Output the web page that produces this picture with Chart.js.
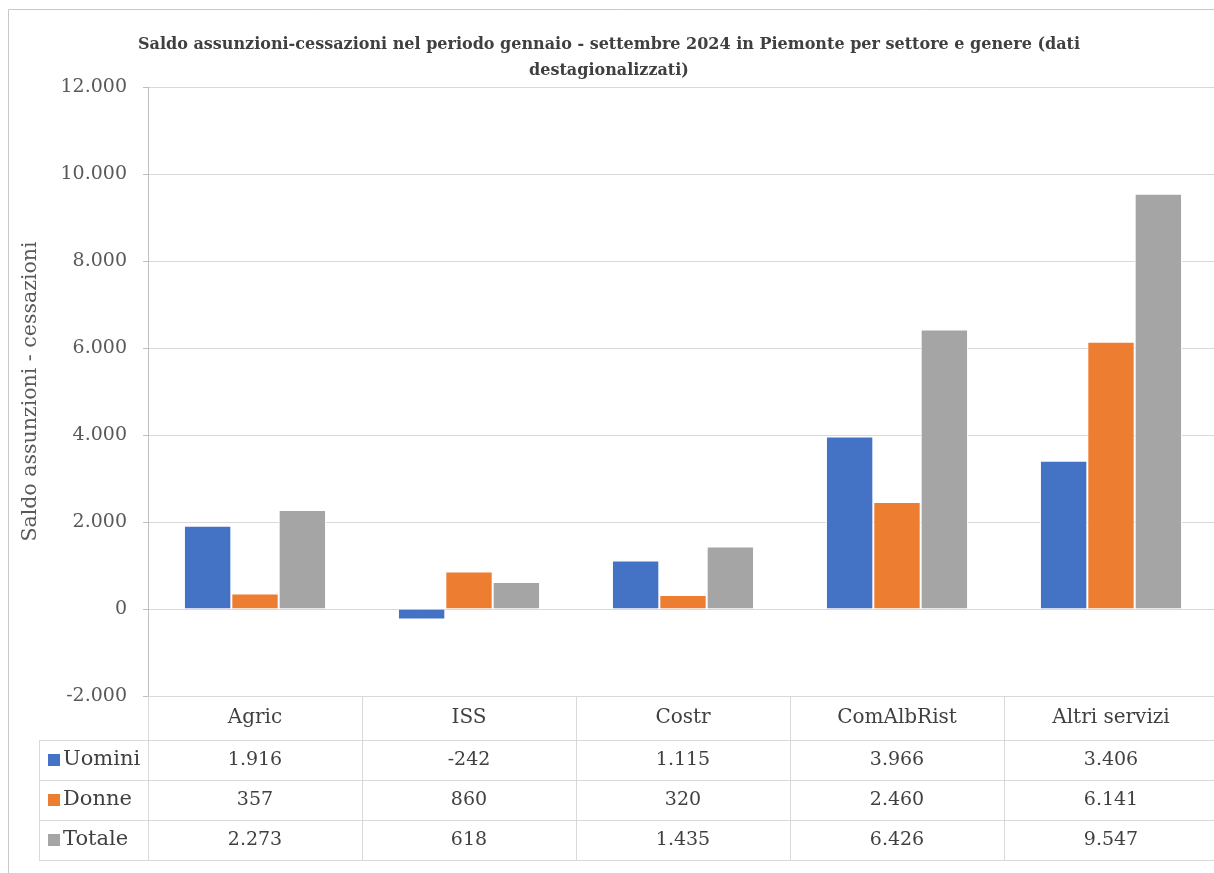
<!DOCTYPE html>
<html>
<head>
<meta charset="utf-8">
<script src="https://cdn.jsdelivr.net/npm/chart.js@4.4.1/dist/chart.umd.min.js"></script>
<style>
  html, body { margin: 0; padding: 0; background: #fff; overflow: hidden; }
  #wrap { position: absolute; left: 0; top: 0; width: 1214px; height: 873px; overflow: hidden; }
  #chart { position: absolute; left: 0; top: 0; }
</style>
</head>
<body>
<div id="wrap"><canvas id="chart" width="1230" height="873"></canvas></div>
<script>
const categories = ['Agric', 'ISS', 'Costr', 'ComAlbRist', 'Altri servizi'];
const uomini = [1916, -242, 1115, 3966, 3406];
const donne = [357, 860, 320, 2460, 6141];
const totale = [2273, 618, 1435, 6426, 9547];
const seriesNames = ['Uomini', 'Donne', 'Totale'];
const seriesColors = ['#4472C4', '#ED7D31', '#A5A5A5'];
const titleLines = [
    'Saldo assunzioni-cessazioni nel periodo gennaio - settembre 2024 in Piemonte per settore e genere (dati',
    'destagionalizzati)'
];
const yTitle = 'Saldo assunzioni - cessazioni';

const serif = "'DejaVu Serif', serif";
const textColor = '#404040';
const lineColor = '#d9d9d9';

function fmt(v) {
    const s = Math.abs(v).toString().replace(/\B(?=(\d{3})+(?!\d))/g, '.');
    return (v < 0 ? '-' : '') + s;
}

// draws the outer frame and the Excel-like data table under the plot
const dataTablePlugin = {
    id: 'dataTable',
    afterDraw(chart) {
        const ctx = chart.ctx;
        const area = chart.chartArea;
        const x = chart.scales.x;
        const rows = [uomini, donne, totale];
        const top = area.bottom;
        const headerH = 44;
        const rowH = 40;
        const legendLeft = 39;
        const n = categories.length;
        const step = (area.right - area.left) / n;

        ctx.save();
        // outer frame
        ctx.strokeStyle = '#c8c8c8';
        ctx.lineWidth = 1;
        ctx.beginPath();
        ctx.moveTo(8.5, chart.height + 5);
        ctx.lineTo(8.5, 9.5);
        ctx.lineTo(chart.width + 5, 9.5);
        ctx.stroke();

        ctx.strokeStyle = lineColor;
        ctx.beginPath();
        ctx.moveTo(area.left, top + 0.5);
        ctx.lineTo(area.right, top + 0.5);
        for (let r = 0; r <= rows.length; r++) {
            const y = Math.round(top + headerH + r * rowH) + 0.5;
            ctx.moveTo(legendLeft, y);
            ctx.lineTo(area.right, y);
        }
        const bottom = top + headerH + rows.length * rowH;
        ctx.moveTo(legendLeft + 0.5, top + headerH);
        ctx.lineTo(legendLeft + 0.5, bottom);
        for (let i = 0; i <= n; i++) {
            const vx = Math.round(area.left + i * step) + 0.5;
            ctx.moveTo(vx, top);
            ctx.lineTo(vx, bottom);
        }
        ctx.stroke();

        ctx.fillStyle = textColor;
        ctx.textAlign = 'center';
        ctx.textBaseline = 'middle';
        ctx.font = '20px ' + serif;
        categories.forEach((c, i) => {
            ctx.fillText(c, x.getPixelForValue(i), top + headerH / 2);
        });
        rows.forEach((vals, r) => {
            const cy = top + headerH + r * rowH + rowH / 2;
            ctx.font = '19px ' + serif;
            ctx.textAlign = 'center';
            vals.forEach((v, i) => {
                ctx.fillText(fmt(v), x.getPixelForValue(i), cy);
            });
            ctx.fillStyle = seriesColors[r];
            ctx.fillRect(48, cy - 6, 12, 12);
            ctx.fillStyle = textColor;
            ctx.textAlign = 'left';
            ctx.font = '21px ' + serif;
            ctx.fillText(seriesNames[r], 63, cy);
        });
        ctx.restore();
    }
};

new Chart(document.getElementById('chart'), {
    type: 'bar',
    data: {
        labels: categories,
        datasets: [uomini, donne, totale].map((d, i) => ({
            label: seriesNames[i],
            data: d,
            backgroundColor: seriesColors[i],
            borderColor: '#ffffff',
            borderWidth: 1,
            categoryPercentage: 0.664,
            barPercentage: 1
        }))
    },
    options: {
        responsive: false,
        animation: false,
        layout: { padding: { left: 0, right: 12, top: 0, bottom: 177 } },
        plugins: {
            legend: { display: false },
            tooltip: { enabled: false },
            title: {
                display: true,
                text: titleLines,
                color: textColor,
                font: { family: serif, size: 16, weight: 'bold', lineHeight: 26 / 16 },
                padding: { top: 32, bottom: 3 }
            }
        },
        scales: {
            x: { display: false },
            y: {
                min: -2000,
                max: 12000,
                afterFit(scale) { scale.width = 148; },
                ticks: {
                    stepSize: 2000,
                    color: '#595959',
                    padding: 16,
                    font: { family: serif, size: 19 },
                    callback: v => fmt(v)
                },
                grid: { color: lineColor, tickLength: 5, tickColor: '#bfbfbf' },
                border: { display: true, color: '#bfbfbf' },
                title: {
                    display: true,
                    text: yTitle,
                    color: '#595959',
                    font: { family: serif, size: 20.5 },
                    padding: { top: 18, bottom: 0 }
                }
            }
        }
    },
    plugins: [dataTablePlugin]
});
</script>
</body>
</html>
